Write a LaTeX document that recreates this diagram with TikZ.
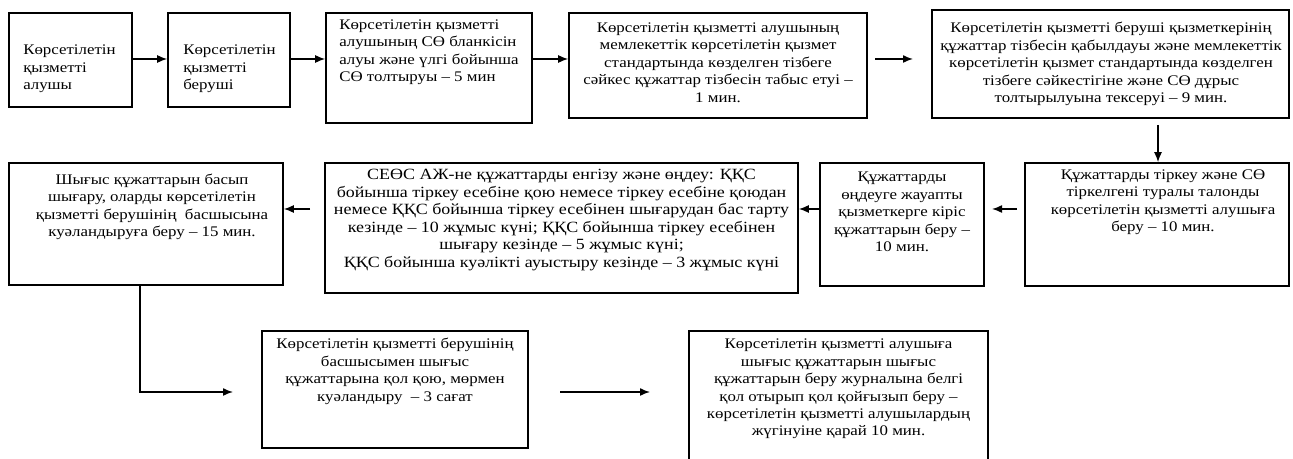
\documentclass[tikz,border=0pt]{standalone}
\usepackage{fontspec}
\setmainfont{Liberation Serif}[FakeStretch=1.15]
\usetikzlibrary{arrows.meta,fit}

\begin{document}
\begin{tikzpicture}[x=0.75pt,y=-0.75pt,
  box/.style={draw,line width=1.2pt,inner sep=0pt},
  txt/.style={font=\fontsize{11}{13.1}\selectfont,inner sep=0pt,align=center},
  widetxt/.style={txt,font=\fontsize{11.7}{13.1}\selectfont},
  ltxt/.style={txt,align=left,anchor=west},
  arr/.style={line width=1.1pt,-{Latex[length=7.5pt,width=6pt]}}]

\useasboundingbox (0,0) rectangle (1293,459);
\clip (0,0) rectangle (1293,459);

% process boxes
\node[box,fit={(9,13)(132,107)}]    (b1) {};
\node[box,fit={(168,13)(290,107)}]  (b2) {};
\node[box,fit={(326,13)(532,123)}]  (b3) {};
\node[box,fit={(569,13)(867,118)}]  (b4) {};
\node[box,fit={(932,10)(1289,118)}] (b5) {};
\node[box,fit={(1025,163)(1289,286)}] (b6) {};
\node[box,fit={(820,163)(984,286)}] (b7) {};
\node[box,fit={(325,163)(798,293)}] (b8) {};
\node[box,fit={(9,163)(283,285)}]   (b9) {};
\node[box,fit={(262,331)(528,448)}] (b10) {};
\node[box,fit={(689,331)(988,478)}] (b11) {};

% box texts
\node[ltxt] (t1) at (23,69) {Көрсетілетін\\қызметті\\алушы};
\node[ltxt] (t2) at (183,69) {Көрсетілетін\\қызметті\\беруші};
\node[ltxt] (t3) at (339,52) {Көрсетілетін қызметті\\алушының СӨ бланкісін\\алуы және үлгі бойынша\\СӨ толтыруы – 5 мин};
\node[txt] (t4) at (718,62.5) {Көрсетілетін қызметті алушының\\мемлекеттік көрсетілетін қызмет\\стандартында көзделген тізбеге\\сәйкес құжаттар тізбесін табыс етуі –\\1 мин.};
\node[txt] (t5) at (1111,64) {Көрсетілетін қызметті беруші қызметкерінің\\құжаттар тізбесін қабылдауы және мемлекеттік\\көрсетілетін қызмет стандартында көзделген\\тізбеге сәйкестігіне және СӨ дұрыс\\толтырылуына тексеруі – 9 мин.};
\node[txt] (t6) at (1163,202) {Құжаттарды тіркеу және СӨ\\тіркелгені туралы талонды\\көрсетілетін қызметті алушыға\\беру – 10 мин.};
\node[txt] (t7) at (902,212) {Құжаттарды\\өңдеуге жауапты\\қызметкерге кіріс\\құжаттарын беру –\\10 мин.};
\node[widetxt] (t8) at (561.5,220) {СЕӨС АЖ-не құжаттарды енгізу және өңдеу: ҚҚС\\бойынша тіркеу есебіне қою немесе тіркеу есебіне қоюдан\\немесе ҚҚС бойынша тіркеу есебінен шығарудан бас тарту\\кезінде – 10 жұмыс күні; ҚҚС бойынша тіркеу есебінен\\шығару кезінде – 5 жұмыс күні;\\ҚҚС бойынша куәлікті ауыстыру кезінде – 3 жұмыс күні};
\node[txt] (t9) at (152,207) {Шығыс құжаттарын басып\\шығару, оларды көрсетілетін\\қызметті берушінің\ \ басшысына\\куәландыруға беру – 15 мин.};
\node[txt] (t10) at (395,371.5) {Көрсетілетін қызметті берушінің\\басшысымен шығыс\\құжаттарына қол қою, мөрмен\\куәландыру\ \ – 3 сағат};
\node[txt] (t11) at (838.5,389) {Көрсетілетін қызметті алушыға\\шығыс құжаттарын шығыс\\құжаттарын беру журналына белгі\\қол отырып қол қойғызып беру –\\көрсетілетін қызметті алушылардың\\жүгінуіне қарай 10 мин.};

% free ends of the connectors
\coordinate (r1) at (0,59);
\coordinate (r2) at (0,209);
\coordinate (c4s) at (875,59);
\coordinate (c4e) at (913,59);
\coordinate (c5s) at (1158,125);
\coordinate (c6s) at (1017,209);
\coordinate (c6e) at (992,209);
\coordinate (c8s) at (310,209);
\coordinate (c9m) at (140,392);
\coordinate (c9e) at (233,392);
\coordinate (c10s) at (560,392);
\coordinate (c10e) at (650,392);

% connectors
\draw[arr] (b1.east |- r1) -- (b2.west |- r1);
\draw[arr] (b2.east |- r1) -- (b3.west |- r1);
\draw[arr] (b3.east |- r1) -- (b4.west |- r1);
\draw[arr] (c4s) -- (c4e);
\draw[arr] (c5s) -- (c5s |- b6.north);
\draw[arr] (c6s) -- (c6e);
\draw[arr] (b7.west |- r2) -- (b8.east |- r2);
\draw[arr] (c8s) -- (b9.east |- r2);
\draw[arr] (c9m |- b9.south) -- (c9m) -- (c9e);
\draw[arr] (c10s) -- (c10e);
\end{tikzpicture}
\end{document}
